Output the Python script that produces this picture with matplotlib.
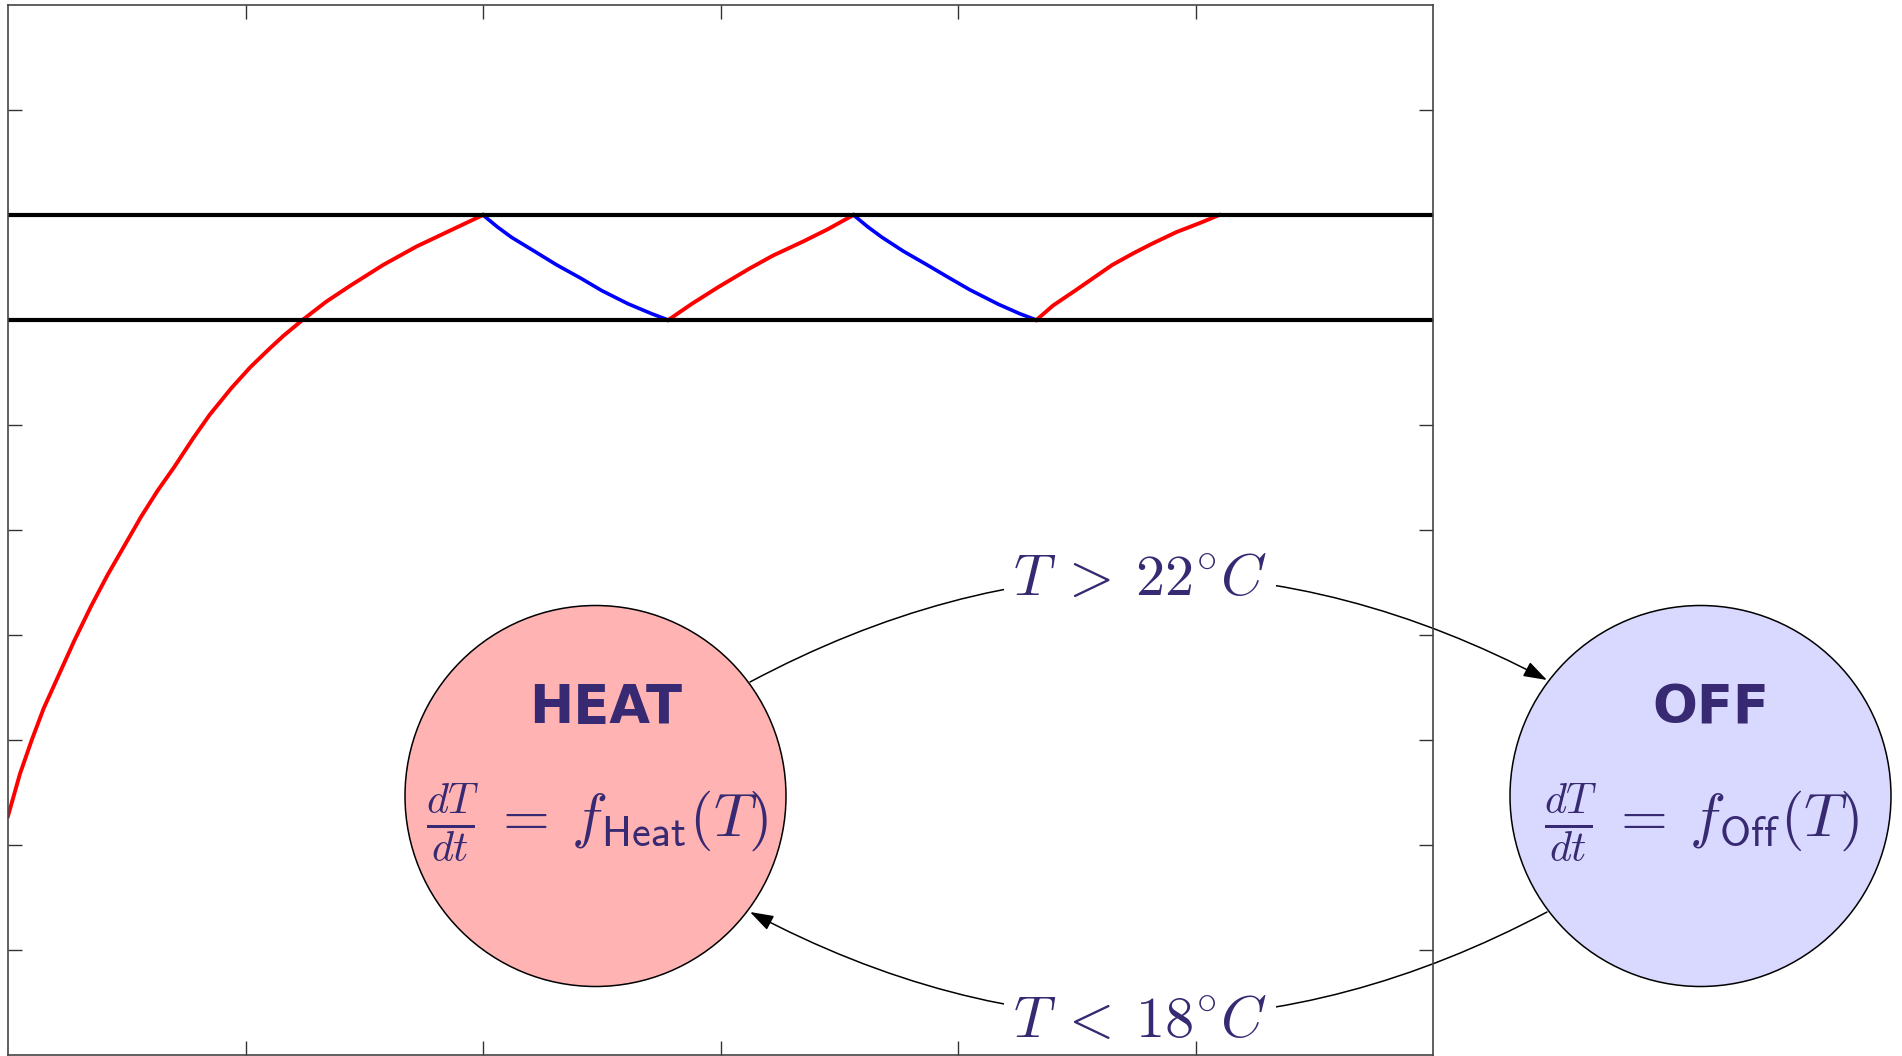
import matplotlib
matplotlib.use("Agg")
import matplotlib.pyplot as plt
from matplotlib.patches import Circle, FancyArrowPatch

plt.rcParams["mathtext.fontset"] = "cm"

# switching thresholds of the thermostat (degC)
T_HIGH = 22
T_LOW = 18

# simulated room temperature, split into HEAT / OFF phases (time in min, temp in degC)
t_heat1 = [0, 0.5, 1.0, 1.5, 2.2, 2.8, 3.5, 4.2, 4.9, 5.6, 6.3, 7.0, 7.8, 8.5,
           9.4, 10.2, 11.0, 11.6, 12.4, 13.4, 14.4, 15.8, 17.2, 18.6, 20.0]
T_heat1 = [-0.9, 0.7, 2.0, 3.2, 4.6, 5.8, 7.1, 8.3, 9.4, 10.5, 11.5, 12.4, 13.5, 14.4,
           15.4, 16.2, 16.9, 17.4, 18.0, 18.7, 19.3, 20.1, 20.8, 21.4, 22.0]

t_off1 = [20.0, 20.6, 21.2, 22.2, 23.1, 24.1, 25.0, 26.1, 27.1, 27.8]
T_off1 = [22.0, 21.55, 21.15, 20.6, 20.1, 19.6, 19.12, 18.62, 18.24, 18.0]

t_heat2 = [27.8, 28.8, 29.9, 31.2, 32.2, 33.5, 34.5, 35.6]
T_heat2 = [18.0, 18.62, 19.25, 19.95, 20.45, 21.0, 21.45, 22.0]

t_off2 = [35.6, 36.2, 36.8, 37.7, 38.7, 39.6, 40.5, 41.7, 42.6, 43.3]
T_off2 = [22.0, 21.55, 21.15, 20.62, 20.1, 19.62, 19.15, 18.6, 18.24, 18.0]

t_heat3 = [43.3, 44.0, 44.9, 45.7, 46.5, 47.4, 48.2, 49.2, 50.2, 51.0]
T_heat3 = [18.0, 18.55, 19.1, 19.6, 20.1, 20.55, 20.92, 21.35, 21.7, 22.0]

heat_runs = [(t_heat1, T_heat1), (t_heat2, T_heat2), (t_heat3, T_heat3)]
off_runs = [(t_off1, T_off1), (t_off2, T_off2)]

TEXT = "#382a72"
W, H = 1902, 1056

fig = plt.figure(figsize=(W / 100, H / 100), dpi=100)

# state diagram layer (pixel coordinates), kept below the plot so ticks stay on top
diag = fig.add_axes([0, 0, 1, 1], zorder=0)
diag.set_xlim(0, W)
diag.set_ylim(H, 0)
diag.axis("off")

ax = fig.add_axes([8 / W, 1 / H, 1425 / W, 1050 / H], zorder=1)
ax.patch.set_alpha(0)

for t, T in heat_runs:
    ax.plot(t, T, color="red", lw=2.8, solid_joinstyle="round")
for t, T in off_runs:
    ax.plot(t, T, color="blue", lw=2.6, solid_joinstyle="round")
ax.axhline(T_HIGH, color="black", lw=3)
ax.axhline(T_LOW, color="black", lw=3)

ax.set_xlim(0, 60)
ax.set_ylim(-10, 30)
ax.set_xticks(range(10, 60, 10))
ax.set_yticks(range(-6, 30, 4))
ax.tick_params(direction="in", length=10, width=1, color="#333333",
               top=True, right=True, labelbottom=False, labelleft=False)
for sp in ax.spines.values():
    sp.set_color("#444444")
    sp.set_linewidth(1.2)

# states
states = [
    ("HEAT", r"$\frac{dT}{dt}\:=\:f_{\mathsf{Heat}}(T)$", (595.5, 796), "#ffb3b3"),
    ("OFF", r"$\frac{dT}{dt}\:=\:f_{\mathsf{Off}}(T)$", (1700.5, 796), "#d9d9ff"),
]
for name, eq, (cx, cy), fc in states:
    diag.add_patch(Circle((cx, cy), 190.5, fc=fc, ec="black", lw=1.1))
    diag.text(cx + 10, cy - 73, name, fontsize=38, fontweight="bold", color=TEXT,
              ha="center", va="baseline")
    diag.text(cx + 1, cy + 27, eq, fontsize=43.5, color=TEXT, ha="center", va="center")

# transitions
arrow_kw = dict(arrowstyle="-|>,head_length=0.6,head_width=0.2", mutation_scale=24,
                lw=1.1, color="black", shrinkA=0, shrinkB=0,
                connectionstyle="arc3,rad=-0.265")
diag.add_patch(FancyArrowPatch((750, 682), (1547, 680), **arrow_kw))
diag.add_patch(FancyArrowPatch((1547, 912), (750, 912), **arrow_kw))

box = dict(boxstyle="square,pad=0.15", fc="white", ec="none")
diag.text(1140, 595, rf"$T\:>\:{T_HIGH}^{{\circ}}C$", fontsize=42, color=TEXT,
          ha="center", va="baseline", bbox=box, zorder=3)
diag.text(1140, 1037, rf"$T\:<\:{T_LOW}^{{\circ}}C$", fontsize=42, color=TEXT,
          ha="center", va="baseline", bbox=box, zorder=3)

fig.savefig("out.png", dpi=100)
